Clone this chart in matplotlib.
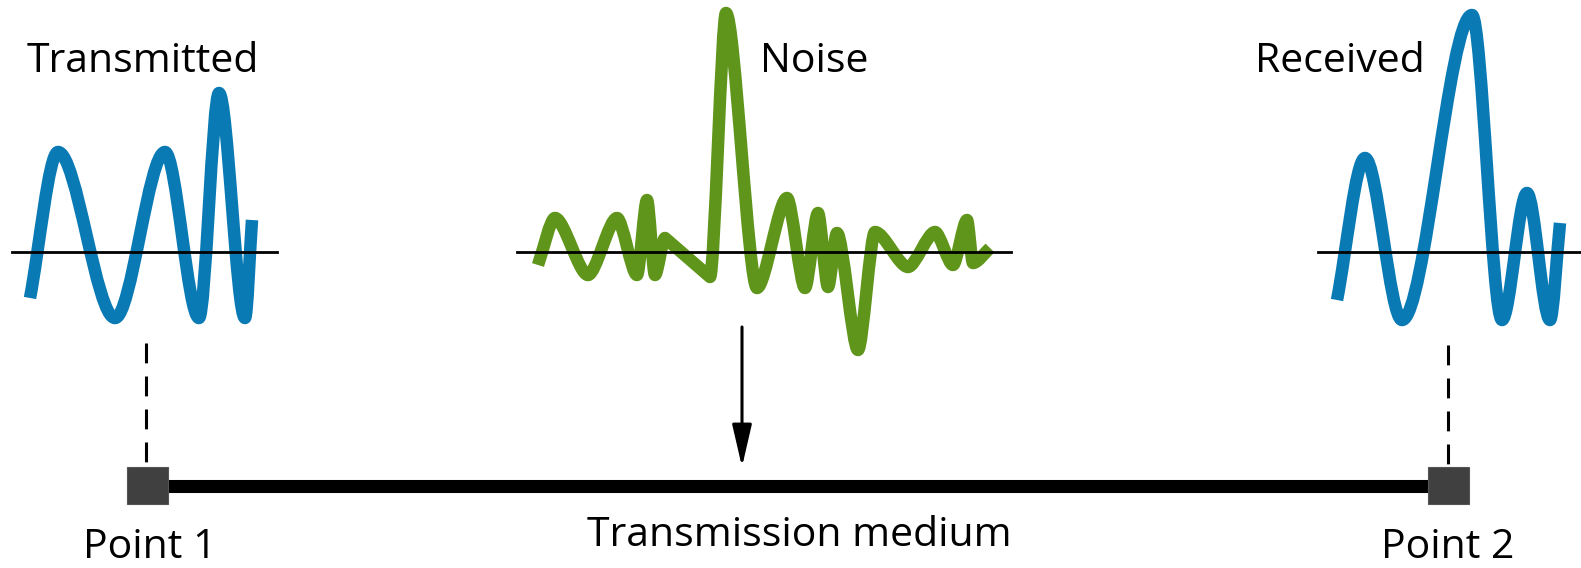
import numpy as np
import matplotlib
matplotlib.use("Agg")
from matplotlib import pyplot as plt
from matplotlib.path import Path
from matplotlib.patches import PathPatch, Rectangle

# waveform turning points (pixel coords of the picture)
tx_x = [30, 58, 115, 165, 199, 219, 245, 252]
tx_y = [298, 152, 318, 152, 318, 93, 318, 220]

noise_x = [538, 555, 588, 617, 637, 647, 655, 665, 710, 726, 757, 787, 805, 818, 828, 837, 858, 875, 908, 935, 953, 967, 973, 990]
noise_y = [265, 218, 275, 218, 275, 200, 275, 238, 277, 13, 288, 198, 288, 213, 287, 233, 350, 232, 267, 232, 265, 220, 263, 248]

rx_x = [1337, 1365, 1402, 1472, 1502, 1527, 1550, 1560]
rx_y = [300, 158, 320, 15, 320, 193, 320, 223]

labels = ["Transmitted", "Noise", "Received", "Point 1", "Transmission medium", "Point 2"]

blue = "#0a7ab5"
green = "#5f951a"
font = ["Open Sans", "DejaVu Sans"]


def smooth(xs, ys, k=0.33, straight=()):
    verts = [(xs[0], ys[0])]
    codes = [Path.MOVETO]
    n = len(xs)
    for i in range(n - 1):
        x0, y0, x1, y1 = xs[i], ys[i], xs[i + 1], ys[i + 1]
        d = x1 - x0
        if i in straight:
            verts += [(x1, y1)]
            codes += [Path.LINETO]
            continue
        if i == 0:
            c1 = (x0 + k * d, y0 + k * (y1 - y0))
        else:
            c1 = (x0 + k * d, y0)
        if i == n - 2:
            c2 = (x1 - k * d, y1 - k * (y1 - y0))
        else:
            c2 = (x1 - k * d, y1)
        verts += [c1, c2, (x1, y1)]
        codes += [Path.CURVE4] * 3
    return Path(verts, codes)


fig = plt.figure(figsize=(15.81, 5.68), dpi=100)
ax = fig.add_axes([0, 0, 1, 1])
ax.set_xlim(0, 1581)
ax.set_ylim(568, 0)
ax.axis("off")

lw_wave = 9
ax.add_patch(PathPatch(smooth(tx_x, tx_y), fill=False, edgecolor=blue, lw=lw_wave, capstyle="butt", joinstyle="round"))
ax.add_patch(PathPatch(smooth(noise_x, noise_y, k=0.28, straight=(7,)), fill=False, edgecolor=green, lw=lw_wave, capstyle="butt", joinstyle="round"))
ax.add_patch(PathPatch(smooth(rx_x, rx_y), fill=False, edgecolor=blue, lw=lw_wave, capstyle="butt", joinstyle="round"))

# zero lines
ax.plot([12, 277], [252, 252], color="black", lw=2)
ax.plot([517, 1011], [252, 252], color="black", lw=2)
ax.plot([1318, 1581], [252, 252], color="black", lw=2)

# dashed drops
ax.plot([146, 146], [343, 467], color="black", lw=2.2, dashes=(6.5, 4.3))
ax.plot([1448, 1448], [345, 467], color="black", lw=2.2, dashes=(6.5, 4.3))

# medium
ax.plot([147, 1448], [485.5, 485.5], color="black", lw=9.4, solid_capstyle="butt")
ax.add_patch(Rectangle((127, 467), 41, 37, facecolor="#404040", edgecolor="#555555", lw=0.8, zorder=3))
ax.add_patch(Rectangle((1428, 467), 41, 37, facecolor="#404040", edgecolor="#555555", lw=0.8, zorder=3))

# arrow
ax.annotate("", xy=(742, 467), xytext=(742, 327),
            arrowprops=dict(arrowstyle="-|>,head_length=2.6,head_width=0.6", color="black", lw=2.2, shrinkA=0, shrinkB=0))

fs = 29.5
ax.text(27, 72, labels[0], fontsize=fs, family=font, ha="left", va="baseline")
ax.text(760, 72, labels[1], fontsize=fs, family=font, ha="left", va="baseline")
ax.text(1255, 72, labels[2], fontsize=fs, family=font, ha="left", va="baseline")
ax.text(83, 558, labels[3], fontsize=fs, family=font, ha="left", va="baseline")
ax.text(587, 546, labels[4], fontsize=fs, family=font, ha="left", va="baseline")
ax.text(1381, 558, labels[5], fontsize=fs, family=font, ha="left", va="baseline")

plt.savefig("out.png", dpi=100)
